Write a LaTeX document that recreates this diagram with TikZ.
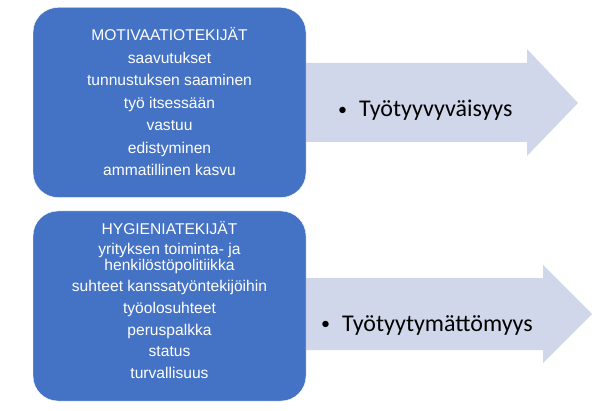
\documentclass[tikz,border=0pt]{standalone}
\usepackage{fontspec}
\newfontfamily\arialfont{Liberation Sans}
\newfontfamily\calibrifont{Carlito}
\usepackage{tikz}
\usetikzlibrary{positioning}
\definecolor{boxblue}{HTML}{4472C4}
\definecolor{arrowgrey}{HTML}{D1D7EA}
\newcommand{\listbullet}{\raisebox{1.5pt}{\fontsize{18pt}{18pt}\selectfont•}}

\begin{document}
\begin{tikzpicture}[x=1pt,y=-1pt,
    factorbox/.style={fill=boxblue,draw=white,rounded corners=25pt,minimum width=273pt,minimum height=190pt,inner sep=0pt},
    factortext/.style={text=white,align=center,inner sep=0pt,font=\arialfont\fontsize{15.6pt}{#1}\selectfont},
    resulttext/.style={text=black,inner sep=0pt,font=\calibrifont\fontsize{24pt}{28pt}\selectfont}]
    \useasboundingbox (0,0) rectangle (609,411);
    % arrows behind the boxes
    \fill[arrowgrey] (290,63)--(527,63)--(527,49)--(578,103)--(527,156)--(527,142)--(290,142)--cycle;
    \fill[arrowgrey] (290,278)--(543,278)--(543,265)--(592,314)--(543,363)--(543,350)--(290,350)--cycle;
    % boxes
    \node[factorbox] (motiv) at (169.5,102.5) {};
    \node[factorbox] (hyg) at (169.5,306) {};
    \node[factortext=22.5pt,below=20pt of motiv.north] (motivlist) {MOTIVAATIOTEKIJÄT\\saavutukset\\tunnustuksen saaminen\\työ itsessään\\vastuu\\edistyminen\\ammatillinen kasvu};
    \node[factortext=21.6pt,below=10pt of hyg.north] (hyglist) {HYGIENIATEKIJÄT\\[-1.5pt]yrityksen toiminta- ja\\[-5.5pt]henkilöstöpolitiikka\\suhteet kanssatyöntekijöihin\\työolosuhteet\\peruspalkka\\status\\turvallisuus};
    \node[resulttext,anchor=base west] (satis) at (338,117) {\listbullet\hspace{12pt}Työtyyvyväisyys};
    \node[resulttext,anchor=base west] (dissatis) at (321,331) {\listbullet\hspace{12pt}Työtyytymättömyys};
\end{tikzpicture}
\end{document}
